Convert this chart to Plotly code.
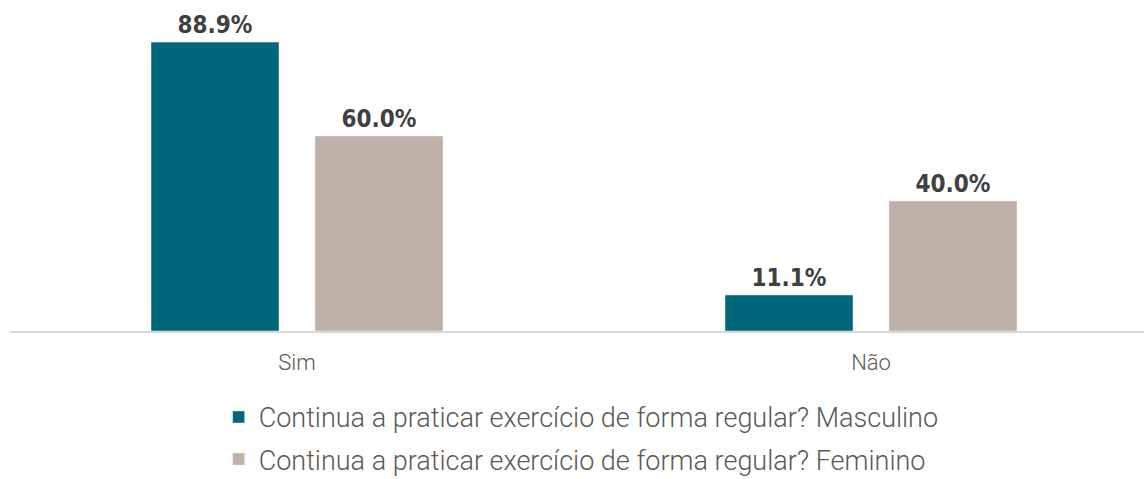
import plotly.graph_objects as go

categories = ["Sim", "Não"]
masculino = [88.9, 11.1]
feminino = [60.0, 40.0]
labels_m = ["88.9%", "11.1%"]
labels_f = ["60.0%", "40.0%"]
series_names = [
    "Continua a praticar exercício de forma regular? Masculino",
    "Continua a praticar exercício de forma regular? Feminino",
]

label_font = dict(family="DejaVu Sans Condensed", size=24, color="#404040", weight="bold")

fig = go.Figure()
fig.add_trace(go.Bar(
    x=categories, y=masculino, name=series_names[0], legendgroup="m",
    marker_color="#006679", text=labels_m, textposition="outside",
    textfont=label_font, cliponaxis=False,
))
fig.add_trace(go.Bar(
    x=categories, y=feminino, name=series_names[1], legendgroup="f",
    marker_color="#BFB0A8", text=labels_f, textposition="outside",
    textfont=label_font, cliponaxis=False,
))

fig.update_layout(
    width=1144, height=479,
    margin=dict(l=10, r=0, t=0, b=148, autoexpand=False),
    plot_bgcolor="white", paper_bgcolor="white",
    barmode="group", bargap=0.4286, bargroupgap=0.2195,
    showlegend=True,
    legend=dict(
        orientation="v", x=0.184, xanchor="left", y=-0.187, yanchor="top",
        font=dict(family="Roboto", size=27, color="#595959", weight=300),
        tracegroupgap=4, itemwidth=30,
    ),
    xaxis=dict(
        range=[-0.5, 1.4756], showline=True, linecolor="#D9D9D9", linewidth=2,
        ticks="", ticklabelstandoff=11,
        tickfont=dict(family="Roboto", size=22, color="#595959", weight=300),
    ),
    yaxis=dict(range=[0, 101.85], visible=False, showgrid=False),
)
fig.update_traces(textangle=0)
fig.write_html("out.html", config={"displayModeBar": False},
               post_script="document.body.style.margin='0';")
